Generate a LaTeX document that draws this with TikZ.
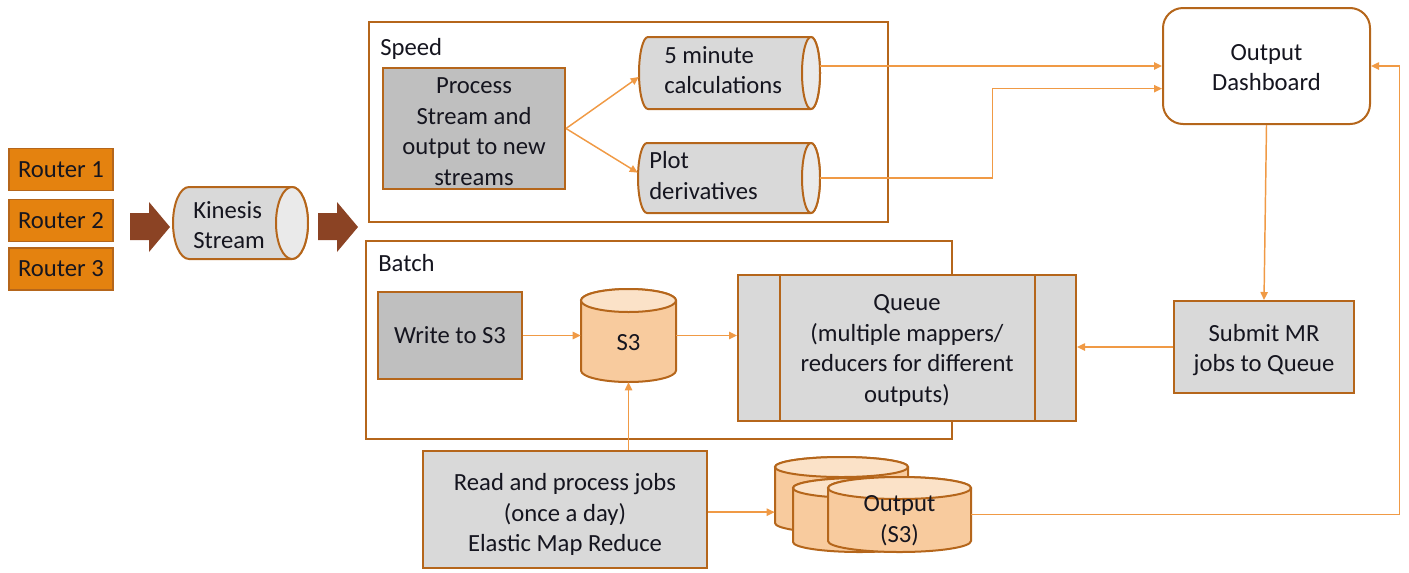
\documentclass[tikz,border=0pt]{standalone}
\usepackage{fontspec}
\setmainfont{Carlito}
\usetikzlibrary{arrows.meta}
\definecolor{brd}{HTML}{B5661B}
\definecolor{routerfill}{HTML}{E4820F}
\definecolor{connc}{HTML}{F09A45}
\definecolor{gdark}{HTML}{BFBFBF}
\definecolor{glight}{HTML}{D9D9D9}
\definecolor{gcap}{HTML}{EAEAEA}
\definecolor{peach}{HTML}{F8CB9E}
\definecolor{peachtop}{HTML}{FBE2C8}
\definecolor{barrow}{HTML}{8B4324}
\definecolor{txt}{HTML}{15151F}
\tikzset{
  box/.style={draw=brd, line width=1.5pt, align=center},
  lbl/.style={align=center},
  rbox/.style={draw=brd, fill=routerfill, line width=1.3pt, minimum width=78pt, minimum height=31.5pt},
  frame/.style={draw=brd, line width=1.5pt},
  shp/.style={draw=brd, line width=1.5pt},
  conn/.style={draw=connc, line width=1.1pt, -{Triangle[length=6pt,width=5.5pt]}},
  blockarrow/.style={fill=barrow}
}
\begin{document}
\begin{tikzpicture}[x=0.75pt,y=-0.75pt,
  every node/.style={font=\fontsize{18.5}{23}\selectfont, text=txt, inner sep=0pt}]
\useasboundingbox (0,0) rectangle (1409,572);

% routers
\node[rbox] (r1) at (61,169.5) {Router 1};
\node[rbox] (r2) at (61,220.5) {Router 2};
\node[rbox] (r3) at (61,269) {Router 3};

% block arrows
\fill[blockarrow] (130,213) -- (149,213) -- (149,202) -- (170,227) -- (149,252) -- (149,240) -- (130,240) -- cycle;
\fill[blockarrow] (318,213) -- (337,213) -- (337,202) -- (358,227) -- (337,252) -- (337,240) -- (318,240) -- cycle;

% Kinesis cylinder
\filldraw[shp, fill=glight] (189,187) -- (292,187) arc[start angle=90,end angle=-90,x radius=12pt,y radius=27pt] -- (189,259) arc[start angle=-90,end angle=-270,x radius=12pt,y radius=27pt] -- cycle;
\filldraw[shp, fill=gcap] (292,223) ellipse[x radius=12pt,y radius=27pt];
\node[minimum width=101.25pt, minimum height=54pt] (kin) at (240.5,223) {};
\node[anchor=west, align=left] (kint) at (193,225) {Kinesis\\Stream};

% containers
\draw[frame] (369,22) rectangle (888,222);
\node[anchor=base west] (spl) at (380,55.5) {Speed};
\draw[frame] (366,241) rectangle (952,439);
\node[anchor=base west] (bal) at (378,271.7) {Batch};

% speed layer
\node[box, fill=gdark, minimum width=136.5pt, minimum height=90.75pt] (proc) at (474,128.5) {};
\node[lbl] (proct) at ([yshift=-2.4pt]proc.center) {Process\\Stream and\\output to new\\streams};

\filldraw[shp, fill=glight] (648,37) -- (811,37) arc[start angle=90,end angle=-90,x radius=6.75pt,y radius=27pt] -- (648,109) arc[start angle=-90,end angle=-270,x radius=6.75pt,y radius=27pt] -- cycle;
\filldraw[shp, fill=gcap] (811,73) ellipse[x radius=6.75pt,y radius=27pt];
\node[minimum width=135.75pt, minimum height=54pt] (m5) at (729.5,73) {};
\node[anchor=west, align=left] (m5t) at (664,70) {5 minute\\calculations};

\filldraw[shp, fill=glight] (647,143) -- (811,143) arc[start angle=90,end angle=-90,x radius=6.75pt,y radius=26.25pt] -- (647,213) arc[start angle=-90,end angle=-270,x radius=6.75pt,y radius=26.25pt] -- cycle;
\filldraw[shp, fill=gcap] (811,178) ellipse[x radius=6.75pt,y radius=26.25pt];
\node[minimum width=136.5pt, minimum height=52.5pt] (pd) at (729,178) {};
\node[anchor=west, align=left] (pdt) at (649,175.5) {Plot\\derivatives};

% dashboard
\node[box, fill=white, rounded corners=15pt, minimum width=155.25pt, minimum height=87pt] (dash) at (1266.5,66) {};
\node[lbl] (dasht) at ([yshift=-1.1pt]dash.center) {Output\\Dashboard};

% batch layer
\node[box, fill=gdark, minimum width=108pt, minimum height=65.25pt] (w3) at (450,335.5) {Write to S3};

\filldraw[shp, fill=peach] (581,300.5) -- (581,370.5) arc[start angle=180,end angle=360,x radius=35.625pt,y radius=8.625pt] -- (676,300.5) arc[start angle=0,end angle=180,x radius=35.625pt,y radius=8.625pt] -- cycle;
\filldraw[shp, fill=peachtop] (628.5,300.5) ellipse[x radius=35.625pt,y radius=8.625pt];
\node[minimum width=71.25pt, minimum height=69.75pt] (s3) at (628.5,335.5) {};
\node (s3t) at (628.5,343) {S3};

\node[box, fill=glight, minimum width=253.5pt, minimum height=109.5pt] (queue) at (907,348) {};
\node[lbl] (queuet) at ([yshift=-1.9pt]queue.center) {Queue\\(multiple mappers/\\reducers for different\\outputs)};
\draw[shp, line width=1.3pt] ([xshift=32.25pt]queue.north west) -- ([xshift=32.25pt]queue.south west);
\draw[shp, line width=1.3pt] ([xshift=-31.5pt]queue.north east) -- ([xshift=-31.5pt]queue.south east);

\node[box, fill=glight, minimum width=135pt, minimum height=69pt] (sub) at (1264,347) {};
\node[lbl] (subt) at ([yshift=-2.25pt]sub.center) {Submit MR\\jobs to Queue};

\node[box, fill=glight, minimum width=213pt, minimum height=87.75pt] (read) at (565,509.5) {};
\node[lbl] (readt) at ([yshift=-3.75pt]read.center) {Read and process jobs\\(once a day)\\Elastic Map Reduce};

% output stack
\filldraw[shp, fill=peach] (775,467) -- (775,523) arc[start angle=180,end angle=360,x radius=49.875pt,y radius=7.5pt] -- (908,467) arc[start angle=0,end angle=180,x radius=49.875pt,y radius=7.5pt] -- cycle;
\filldraw[shp, fill=peachtop] (841.5,467) ellipse[x radius=49.875pt,y radius=7.5pt];
\node[minimum width=99.75pt, minimum height=57pt] (outb) at (841.5,495) {};
\filldraw[shp, fill=peach] (793,488) -- (793,542) arc[start angle=180,end angle=360,x radius=49.875pt,y radius=7.5pt] -- (926,488) arc[start angle=0,end angle=180,x radius=49.875pt,y radius=7.5pt] -- cycle;
\filldraw[shp, fill=peachtop] (859.5,488) ellipse[x radius=49.875pt,y radius=7.5pt];
\node[minimum width=99.75pt, minimum height=55.5pt] (outm) at (859.5,515) {};
\filldraw[shp, fill=peach] (828,488) -- (828,541) arc[start angle=180,end angle=360,x radius=53.625pt,y radius=8.25pt] -- (971,488) arc[start angle=0,end angle=180,x radius=53.625pt,y radius=8.25pt] -- cycle;
\filldraw[shp, fill=peachtop] (899.5,488) ellipse[x radius=53.625pt,y radius=8.25pt];
\node[minimum width=107.25pt, minimum height=56.25pt] (outf) at (899.5,514.5) {};
\node[lbl] (outt) at (899.5,521) {Output\\(S3)};

% connectors
\draw[conn] (proc.east) -- ([yshift=-3pt]m5.west);
\draw[conn] (proc.east) -- ([yshift=4pt]pd.west);
\draw[conn] (m5.east |- dash.west) -- (dash.west);
\draw[conn] (pd.east) -- ++(172,0) |- ([yshift=-17pt]dash.west);
\draw[conn] (dash.south) -- (sub.north);
\draw[conn] (sub.west) -- (queue.east |- sub.west);
\draw[conn] (w3.east) -- (s3.west |- w3.east);
\draw[conn] (s3.east |- w3.east) -- (queue.west |- w3.east);
\draw[conn] (s3.south |- read.north) -- (s3.south);
\draw[conn] ([yshift=-2pt]read.east) -- ([yshift=-2pt]outb.west |- read.east);
\draw[conn] (outf.east) -- ++(428,0) |- (dash.east);
\end{tikzpicture}
\end{document}
